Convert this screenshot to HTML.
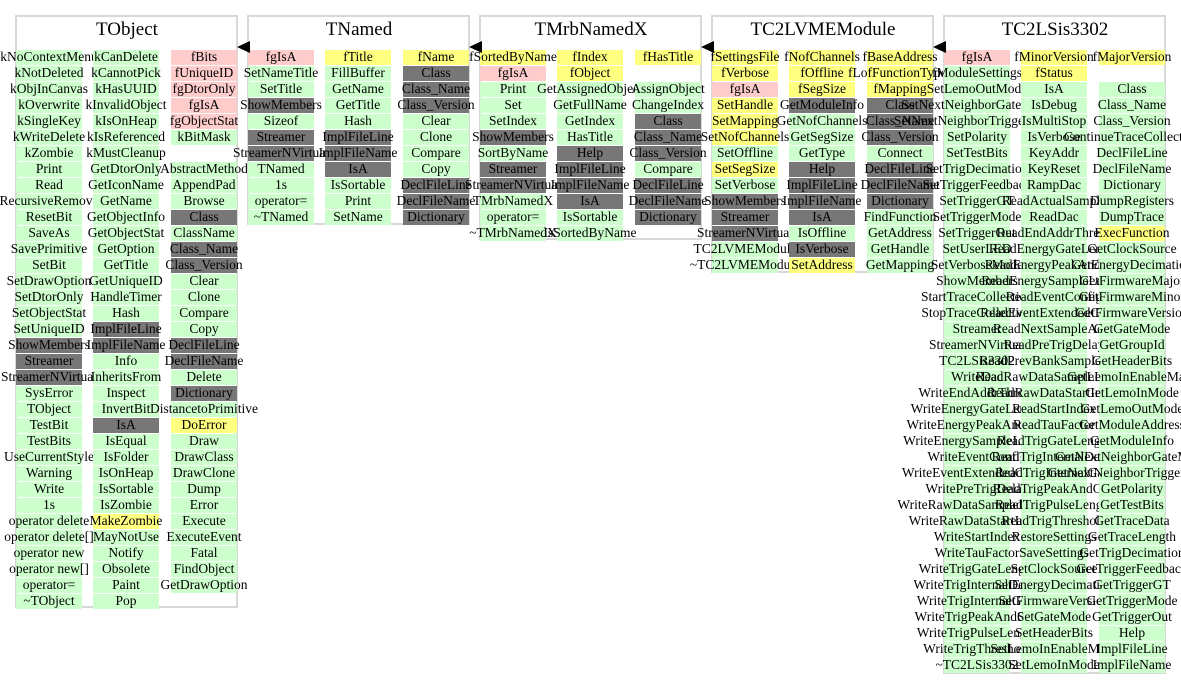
<!DOCTYPE html>
<html><head><meta charset="utf-8"><style>
body{margin:0;width:1181px;height:688px;background:#fff;position:relative;overflow:hidden;font-family:"Liberation Serif",serif;}
.c{position:absolute;height:15px;width:66px;}
.t{position:absolute;left:50%;top:-1px;transform:translateX(-50%);white-space:nowrap;font-size:13.5px;line-height:16px;color:#000;}
.fr{position:absolute;border:2px solid #d8d8d8;box-sizing:border-box;}
.ti{position:absolute;font-size:19px;white-space:nowrap;transform:translateX(-50%);top:19px;}
</style></head><body>
<svg width="1181" height="688" style="position:absolute;left:0;top:0;z-index:5;pointer-events:none">
<polygon points="237,47 250,41 250,53" fill="#000"/>
<polygon points="469,47 482,41 482,53" fill="#000"/>
<polygon points="701,47 714,41 714,53" fill="#000"/>
<polygon points="933,47 946,41 946,53" fill="#000"/>
</svg>
<div id="r"></div>
<script>
var G='#ccffcc',P='#ffcccc',Y='#ffff80',D='#777777';
function col(x,list){var h='';list.forEach(function(s,i){if(s==='')return;var c=G;var k=s[0];if(s[1]===':'){c={p:P,y:Y,d:D,g:G}[k];s=s.slice(2);}
h+='<div class="c" style="left:'+x+'px;top:'+(50+i*16)+'px;background:'+c+'"><span class="t">'+s+'</span></div>';});return h;}
function box(x,b,title,cols){var h='<div class="fr" style="left:'+(x-1)+'px;top:15px;width:223px;height:'+(b-15)+'px"></div>';
h+='<div class="ti" style="left:'+(x+111)+'px">'+title+'</div>';
var xs=[x,x+77,x+155];cols.forEach(function(l,i){h+=col(xs[i],l);});return h;}
function sp(s){return s.split(',');}
var H='';
H+=box(16,608,'TObject',[
sp('kNoContextMenu,kNotDeleted,kObjInCanvas,kOverwrite,kSingleKey,kWriteDelete,kZombie,Print,Read,RecursiveRemove,ResetBit,SaveAs,SavePrimitive,SetBit,SetDrawOption,SetDtorOnly,SetObjectStat,SetUniqueID,d:ShowMembers,d:Streamer,d:StreamerNVirtual,SysError,TObject,TestBit,TestBits,UseCurrentStyle,Warning,Write,1s,operator delete,operator delete[],operator new,operator new[],operator=,~TObject'),
sp('kCanDelete,kCannotPick,kHasUUID,kInvalidObject,kIsOnHeap,kIsReferenced,kMustCleanup,GetDtorOnly,GetIconName,GetName,GetObjectInfo,GetObjectStat,GetOption,GetTitle,GetUniqueID,HandleTimer,Hash,d:ImplFileLine,d:ImplFileName,Info,InheritsFrom,Inspect,InvertBit,d:IsA,IsEqual,IsFolder,IsOnHeap,IsSortable,IsZombie,y:MakeZombie,MayNotUse,Notify,Obsolete,Paint,Pop'),
sp('p:fBits,p:fUniqueID,p:fgDtorOnly,p:fgIsA,p:fgObjectStat,kBitMask,,AbstractMethod,AppendPad,Browse,d:Class,ClassName,d:Class_Name,d:Class_Version,Clear,Clone,Compare,Copy,d:DeclFileLine,d:DeclFileName,Delete,d:Dictionary,DistancetoPrimitive,y:DoError,Draw,DrawClass,DrawClone,Dump,Error,Execute,ExecuteEvent,Fatal,FindObject,GetDrawOption')]);
H+=box(248,225,'TNamed',[
sp('p:fgIsA,SetNameTitle,SetTitle,d:ShowMembers,Sizeof,d:Streamer,d:StreamerNVirtual,TNamed,1s,operator=,~TNamed'),
sp('y:fTitle,FillBuffer,GetName,GetTitle,Hash,d:ImplFileLine,d:ImplFileName,d:IsA,IsSortable,Print,SetName'),
sp('y:fName,d:Class,d:Class_Name,d:Class_Version,Clear,Clone,Compare,Copy,d:DeclFileLine,d:DeclFileName,d:Dictionary')]);
H+=box(480,240,'TMrbNamedX',[
sp('y:fSortedByName,p:fgIsA,Print,Set,SetIndex,d:ShowMembers,SortByName,d:Streamer,d:StreamerNVirtual,TMrbNamedX,operator=,~TMrbNamedX'),
sp('y:fIndex,y:fObject,GetAssignedObject,GetFullName,GetIndex,HasTitle,d:Help,d:ImplFileLine,d:ImplFileName,d:IsA,IsSortable,IsSortedByName'),
sp('y:fHasTitle,,AssignObject,ChangeIndex,d:Class,d:Class_Name,d:Class_Version,Compare,d:DeclFileLine,d:DeclFileName,d:Dictionary')]);
H+=box(712,273,'TC2LVMEModule',[
sp('y:fSettingsFile,y:fVerbose,p:fgIsA,y:SetHandle,y:SetMapping,y:SetNofChannels,SetOffline,y:SetSegSize,SetVerbose,d:ShowMembers,d:Streamer,d:StreamerNVirtual,TC2LVMEModule,~TC2LVMEModule'),
sp('y:fNofChannels,y:fOffline,y:fSegSize,d:GetModuleInfo,GetNofChannels,GetSegSize,GetType,d:Help,d:ImplFileLine,d:ImplFileName,d:IsA,IsOffline,d:IsVerbose,y:SetAddress'),
sp('y:fBaseAddress,y:fLofFunctionTypes,y:fMapping,d:Class,d:Class_Name,d:Class_Version,Connect,d:DeclFileLine,d:DeclFileName,d:Dictionary,FindFunction,GetAddress,GetHandle,GetMapping')]);
H+=box(944,674,'TC2LSis3302',[
sp('p:fgIsA,fModuleSettings,SetLemoOutMode,SetNextNeighborGateMode,SetNextNeighborTriggerMode,SetPolarity,SetTestBits,SetTrigDecimation,SetTriggerFeedback,SetTriggerGT,SetTriggerMode,SetTriggerOut,SetUserLED,SetVerboseMode,ShowMembers,StartTraceCollection,StopTraceCollection,Streamer,StreamerNVirtual,TC2LSis3302,WriteDac,WriteEndAddrThresh,WriteEnergyGateLength,WriteEnergyPeakAndGap,WriteEnergySampleLength,WriteEventConfig,WriteEventExtendedConfig,WritePreTrigDelay,WriteRawDataSampleLength,WriteRawDataStartIndex,WriteStartIndex,WriteTauFactor,WriteTrigGateLength,WriteTrigInternalDelay,WriteTrigInternalGate,WriteTrigPeakAndGap,WriteTrigPulseLength,WriteTrigThreshold,~TC2LSis3302'),
sp('y:fMinorVersion,y:fStatus,IsA,IsDebug,IsMultiStop,IsVerbose,KeyAddr,KeyReset,RampDac,ReadActualSample,ReadDac,ReadEndAddrThresh,ReadEnergyGateLength,ReadEnergyPeakAndGap,ReadEnergySampleLength,ReadEventConfig,ReadEventExtendedConfig,ReadNextSampleAddr,ReadPreTrigDelay,ReadPrevBankSampleAddr,ReadRawDataSampleLength,ReadRawDataStartIndex,ReadStartIndex,ReadTauFactor,ReadTrigGateLength,ReadTrigInternalDelay,ReadTrigInternalGate,ReadTrigPeakAndGap,ReadTrigPulseLength,ReadTrigThreshold,RestoreSettings,SaveSettings,SetClockSource,SetEnergyDecimation,SetFirmwareVersion,SetGateMode,SetHeaderBits,SetLemoInEnableMask,SetLemoInMode'),
sp('y:fMajorVersion,,Class,Class_Name,Class_Version,ContinueTraceCollection,DeclFileLine,DeclFileName,Dictionary,DumpRegisters,DumpTrace,y:ExecFunction,GetClockSource,GetEnergyDecimation,GetFirmwareMajor,GetFirmwareMinor,GetFirmwareVersion,GetGateMode,GetGroupId,GetHeaderBits,GetLemoInEnableMask,GetLemoInMode,GetLemoOutMode,GetModuleAddress,GetModuleInfo,GetNextNeighborGateMode,GetNextNeighborTriggerMode,GetPolarity,GetTestBits,GetTraceData,GetTraceLength,GetTrigDecimation,GetTriggerFeedback,GetTriggerGT,GetTriggerMode,GetTriggerOut,Help,ImplFileLine,ImplFileName')]);
document.getElementById('r').innerHTML=H;
</script>
</body></html>
